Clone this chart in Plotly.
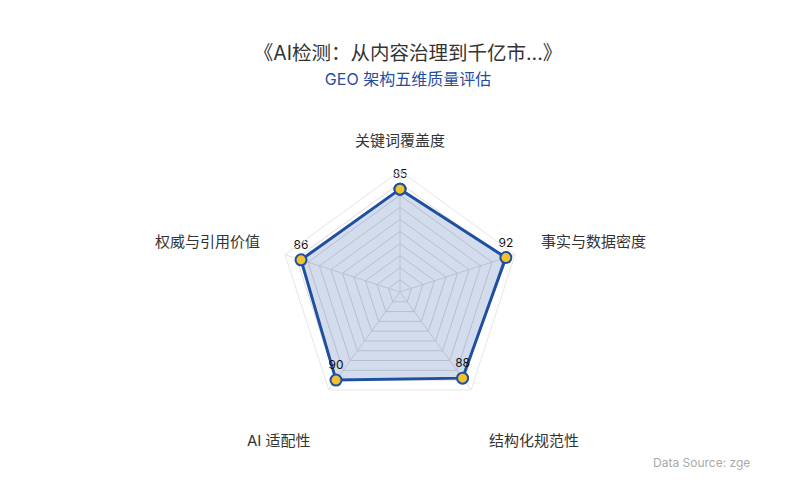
import plotly.graph_objects as go

# chart data
DIMENSIONS = ['关键词覆盖度', '事实与数据密度', '结构化规范性', 'AI 适配性', '权威与引用价值']
SCORES = [85, 92, 88, 90, 86]

TITLE = '《AI检测：从内容治理到千亿市...》'
SUBTITLE = 'GEO 架构五维质量评估'
SOURCE = 'Data Source: zge'

LINE_COLOR = '#1f4fa0'
MARKER_COLOR = '#f2c12e'
FONT = 'Inter, Noto Sans CJK SC, sans-serif'

W, H = 800, 500
M = dict(l=72, r=88, t=163, b=95)
PAGE_OFFSET = 8  # body margin of the html page

# where each dimension name sits (pixel x, pixel y, xanchor)
NAME_POS = [(400, 140, 'center'), (539, 241, 'left'), (487, 440, 'left'),
            (313, 440, 'right'), (262, 241, 'right')]


def to_paper(px, py):
    px -= PAGE_OFFSET
    py -= PAGE_OFFSET
    pw = W - M['l'] - M['r']
    ph = H - M['t'] - M['b']
    return (px - M['l']) / pw, (H - M['b'] - py) / ph


def main():
    # close the polygon
    theta = DIMENSIONS + DIMENSIONS[:1]
    r = SCORES + SCORES[:1]
    labels = [str(v) for v in SCORES] + ['']

    fig = go.Figure()
    fig.add_trace(go.Scatterpolar(
        r=r, theta=theta,
        mode='lines+markers+text',
        text=labels, textposition='top center',
        textfont=dict(size=12, color='#111', family=FONT),
        fill='toself', fillcolor='rgba(31,79,160,0.2)',
        line=dict(color=LINE_COLOR, width=3),
        marker=dict(size=11, color=MARKER_COLOR, line=dict(color=LINE_COLOR, width=2)),
        showlegend=False,
    ))

    annotations = []
    for name, (px, py, anchor) in zip(DIMENSIONS, NAME_POS):
        x, y = to_paper(px, py)
        annotations.append(dict(text=name, xref='paper', yref='paper', x=x, y=y,
                                xanchor=anchor, yanchor='middle', showarrow=False,
                                font=dict(size=15, color='#333', family=FONT)))
    sx, sy = to_paper(651, 462)
    annotations.append(dict(text=SOURCE, xref='paper', yref='paper', x=sx, y=sy,
                            xanchor='left', yanchor='middle', showarrow=False,
                            font=dict(size=12, color='#aaaaaa', family=FONT)))

    fig.update_layout(
        width=W, height=H,
        paper_bgcolor='white', plot_bgcolor='white',
        margin=M,
        font=dict(family=FONT, color='#333'),
        title=dict(
            text=TITLE + '<br><span style="font-size:16px;color:#1f4fa0">' + SUBTITLE + '</span>',
            x=0.5, xanchor='center', y=0.896, yanchor='middle',
            font=dict(size=19.5, color='#333', family=FONT),
        ),
        polar=dict(
            bgcolor='white',
            gridshape='linear',
            radialaxis=dict(range=[0, 100], dtick=10, showticklabels=False, ticks='',
                            showline=False, gridcolor='#dcdcdc', gridwidth=1),
            angularaxis=dict(rotation=90, direction='clockwise', showticklabels=False,
                             ticks='', showline=True, linecolor='#e6e6e6', gridcolor='#e0e0e0'),
        ),
        annotations=annotations,
    )

    fig.write_html('out.html')


if __name__ == '__main__':
    main()
